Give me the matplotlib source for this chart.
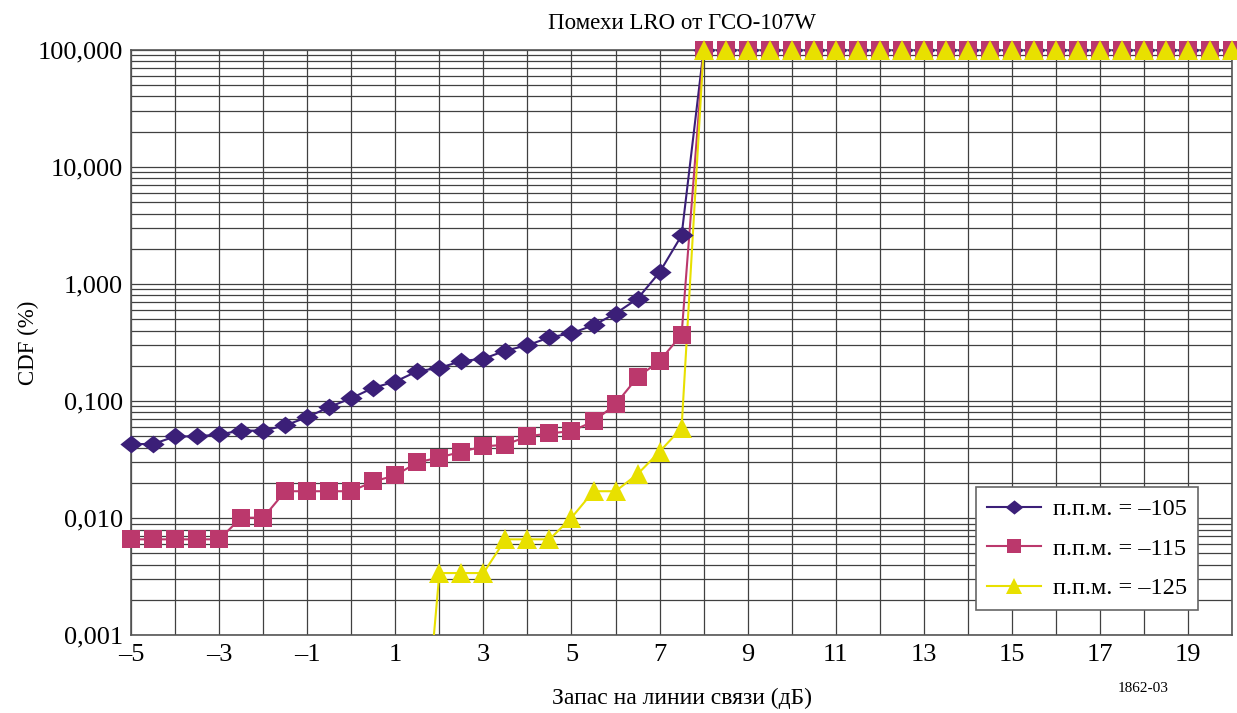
import matplotlib
matplotlib.use("Agg")
import matplotlib.pyplot as plt
from matplotlib.ticker import FixedLocator, LogLocator, NullFormatter
import numpy as np

plt.rcParams['font.family'] = ['Liberation Serif', 'DejaVu Serif']

# margin (dB) for the sloped part, then the saturated 100 % part
x_low = [-5, -4.5, -4, -3.5, -3, -2.5, -2, -1.5, -1, -0.5, 0, 0.5, 1,
         1.5, 2, 2.5, 3, 3.5, 4, 4.5, 5, 5.5, 6, 6.5, 7, 7.5]
x_high = [8, 8.5, 9, 9.5, 10, 10.5, 11, 11.5, 12, 12.5, 13, 13.5, 14, 14.5,
          15, 15.5, 16, 16.5, 17, 17.5, 18, 18.5, 19, 19.5, 20]
cdf_high = [100.0] * len(x_high)

# pfd = -105
cdf_105 = [0.043, 0.043, 0.050, 0.050, 0.052, 0.056, 0.056, 0.062, 0.073,
           0.089, 0.106, 0.130, 0.147, 0.180, 0.192, 0.220, 0.230, 0.270,
           0.300, 0.350, 0.380, 0.445, 0.560, 0.750, 1.260, 2.600]
# pfd = -115
cdf_115 = [0.0066, 0.0066, 0.0066, 0.0066, 0.0066, 0.0101, 0.0101, 0.0170,
           0.0170, 0.0170, 0.0170, 0.0206, 0.0232, 0.0300, 0.0330, 0.0370,
           0.0410, 0.0425, 0.0500, 0.0530, 0.0555, 0.0670, 0.0940, 0.160,
           0.220, 0.370]
# pfd = -125 (starts at 1.5 dB, far below the axis)
x_125 = [1.5, 2, 2.5, 3, 3.5, 4, 4.5, 5, 5.5, 6, 6.5, 7, 7.5]
cdf_125 = [0.000025, 0.0034, 0.0034, 0.0034, 0.0066, 0.0066, 0.0066, 0.0101,
           0.0170, 0.0170, 0.0238, 0.0370, 0.0590]

labels = ['п.п.м. = –105', 'п.п.м. = –115', 'п.п.м. = –125']
colors = ['#3b1f78', '#bb386c', '#e8e000']

xticks = list(range(-5, 21, 2))
xticklabels = [str(t).replace('-', '–') for t in xticks]
yticks = [0.001, 0.01, 0.1, 1, 10, 100]
yticklabels = ['0,001', '0,010', '0,100', '1,000', '10,000', '100,000']

fig = plt.figure(figsize=(12.37, 7.13), dpi=100)
ax = fig.add_axes([0.106, 0.109, 0.890, 0.821])

diamond = [(-1, 0), (0, 0.8), (1, 0), (0, -0.8), (-1, 0)]
series = [
    (x_low + x_high, cdf_105 + cdf_high, diamond, 16),
    (x_low + x_high, cdf_115 + cdf_high, 's', 12.5),
    (x_125 + x_high, cdf_125 + cdf_high, '^', 14),
]

for (xs, ys, mk, ms), col, lab in zip(series, colors, labels):
    # the line stays inside the axes
    ax.plot(xs, ys, color=col, lw=1.5, zorder=3)
    # markers may hang over the frame, as in the original
    vis = [(a, b) for a, b in zip(xs, ys) if b >= 0.001]
    ax.plot([a for a, b in vis], [b for a, b in vis], ls='none', marker=mk,
            markersize=ms, markeredgewidth=0, color=col, clip_on=False,
            zorder=4)
    # legend proxy
    ax.plot([], [], color=col, lw=1.5, marker=mk, markersize=ms * 0.8,
            markeredgewidth=0, label=lab)

ax.set_yscale('log')
ax.set_xlim(-5, 20)
ax.set_ylim(0.001, 100)

ax.set_xticks(xticks)
ax.set_xticklabels(xticklabels)
ax.xaxis.set_minor_locator(FixedLocator(range(-5, 21)))
ax.set_yticks(yticks)
ax.set_yticklabels(yticklabels)
ax.yaxis.set_minor_locator(LogLocator(base=10, subs=np.arange(2, 10)))
ax.yaxis.set_minor_formatter(NullFormatter())

ax.grid(True, which='both', axis='both', color='#404040', lw=0.9)
ax.set_axisbelow(True)
ax.tick_params(which='both', length=0, labelsize=19, pad=6)
for s in ax.spines.values():
    s.set_color('#555555')
    s.set_linewidth(1.2)

ax.set_title('Помехи LRO от ГСО-107W', fontsize=16.5, pad=15)
ax.set_xlabel('Запас на линии связи (дБ)', fontsize=17, labelpad=16)
ax.set_ylabel('CDF (%)', fontsize=16.5)
ax.yaxis.set_label_coords(-0.084, 0.5)

leg = ax.legend(loc='lower right', bbox_to_anchor=(0.969, 0.043),
                fontsize=17.5, fancybox=False, framealpha=1,
                edgecolor='#666666', handlelength=2.2, handletextpad=0.5,
                borderpad=0.45, labelspacing=0.72, borderaxespad=0)
leg.get_frame().set_linewidth(1.2)
leg.set_zorder(5)

fig.text(0.924, 0.035, '1862-03', fontsize=11, ha='center', va='center')

fig.savefig('out.png', dpi=100)
